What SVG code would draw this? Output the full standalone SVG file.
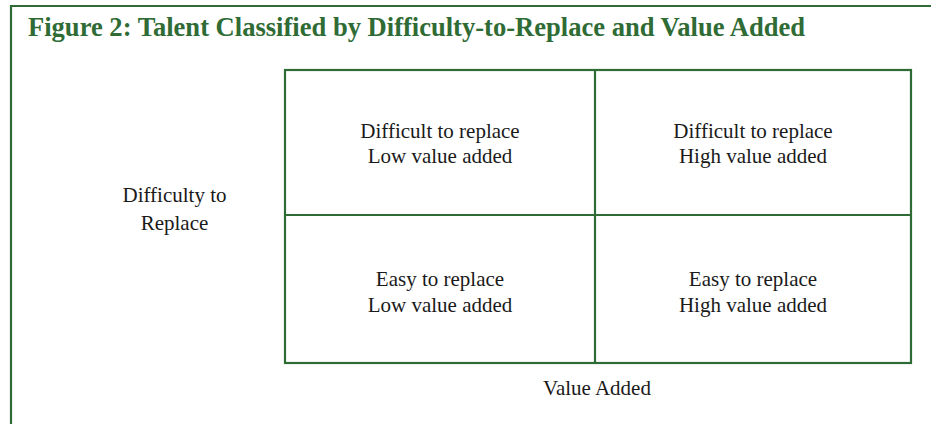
<svg xmlns="http://www.w3.org/2000/svg" width="931" height="424" viewBox="0 0 931 424">
<style>
.ln{fill:none;stroke:#2f6b35;stroke-width:2.2}
.t{font-family:"Liberation Serif",serif;font-size:21px;fill:#1a1a1a;text-anchor:middle}
.title{font-family:"Liberation Serif",serif;font-size:27px;font-weight:bold;fill:#2f6b35}
</style>
<rect width="931" height="424" fill="#fff"/>
<g id="frame">
<path class="ln" d="M11 424 V6 H931"/>
</g>
<text class="title" x="28" y="36" textLength="777" lengthAdjust="spacingAndGlyphs">Figure 2: Talent Classified by Difficulty-to-Replace and Value Added</text>
<g id="grid">
<rect class="ln" x="285" y="70" width="626" height="293"/>
<path class="ln" d="M595 70 V363 M285 215 H911"/>
</g>
<g id="cell-tl"><text class="t" x="440" y="138">Difficult to replace</text><text class="t" x="440" y="163">Low value added</text></g>
<g id="cell-tr"><text class="t" x="753" y="138">Difficult to replace</text><text class="t" x="753" y="163">High value added</text></g>
<g id="cell-bl"><text class="t" x="440" y="286">Easy to replace</text><text class="t" x="440" y="312">Low value added</text></g>
<g id="cell-br"><text class="t" x="753" y="286">Easy to replace</text><text class="t" x="753" y="312">High value added</text></g>
<g id="y-label"><text class="t" x="174.5" y="202">Difficulty to</text><text class="t" x="174.5" y="230">Replace</text></g>
<g id="x-label"><text class="t" x="597" y="395">Value Added</text></g>
</svg>
